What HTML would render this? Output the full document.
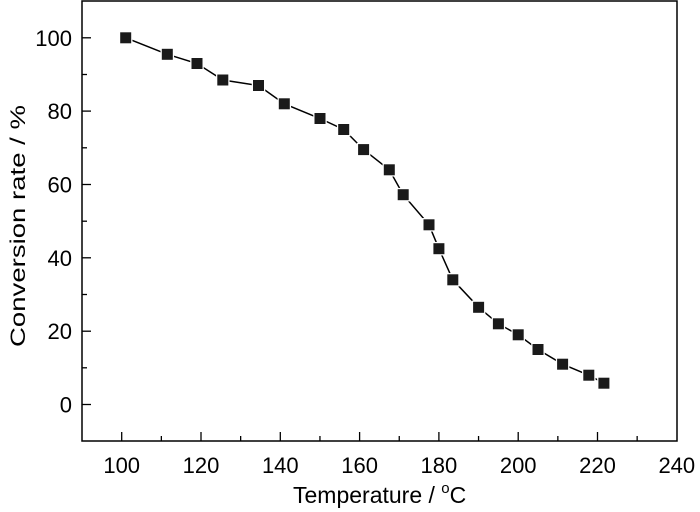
<!DOCTYPE html>
<html><head><meta charset="utf-8"><style>body{margin:0;background:#fff}svg{display:block}</style></head><body>
<svg width="700" height="512" xmlns="http://www.w3.org/2000/svg" font-family="Liberation Sans, Arial, sans-serif">
<rect x="82" y="1" width="595" height="440" fill="none" stroke="#000" stroke-width="1.5"/>
<g stroke="#000" stroke-width="1.3">
<line x1="121.7" y1="441" x2="121.7" y2="432"/><line x1="161.35" y1="441" x2="161.35" y2="436"/>
<line x1="201" y1="441" x2="201" y2="432"/><line x1="240.65" y1="441" x2="240.65" y2="436"/>
<line x1="280.3" y1="441" x2="280.3" y2="432"/><line x1="319.95" y1="441" x2="319.95" y2="436"/>
<line x1="359.6" y1="441" x2="359.6" y2="432"/><line x1="399.25" y1="441" x2="399.25" y2="436"/>
<line x1="438.9" y1="441" x2="438.9" y2="432"/><line x1="478.55" y1="441" x2="478.55" y2="436"/>
<line x1="518.2" y1="441" x2="518.2" y2="432"/><line x1="557.85" y1="441" x2="557.85" y2="436"/>
<line x1="597.5" y1="441" x2="597.5" y2="432"/><line x1="637.15" y1="441" x2="637.15" y2="436"/>
<line x1="82" y1="404.5" x2="91" y2="404.5"/><line x1="82" y1="367.8" x2="87" y2="367.8"/>
<line x1="82" y1="331.2" x2="91" y2="331.2"/><line x1="82" y1="294.5" x2="87" y2="294.5"/>
<line x1="82" y1="257.8" x2="91" y2="257.8"/><line x1="82" y1="221.2" x2="87" y2="221.2"/>
<line x1="82" y1="184.5" x2="91" y2="184.5"/><line x1="82" y1="147.8" x2="87" y2="147.8"/>
<line x1="82" y1="111.1" x2="91" y2="111.1"/><line x1="82" y1="74.5" x2="87" y2="74.5"/>
<line x1="82" y1="37.8" x2="91" y2="37.8"/>
</g>
<g font-size="22" text-anchor="middle">
<text x="121.7" y="473">100</text><text x="201" y="473">120</text><text x="280.3" y="473">140</text>
<text x="359.6" y="473">160</text><text x="438.9" y="473">180</text><text x="518.2" y="473">200</text>
<text x="597.5" y="473">220</text><text x="676.8" y="473">240</text>
</g>
<g font-size="22" text-anchor="end">
<text x="72" y="412.5">0</text><text x="72" y="339.2">20</text><text x="72" y="265.8">40</text>
<text x="72" y="192.5">60</text><text x="72" y="119.1">80</text><text x="72" y="45.8">100</text>
</g>
<polyline fill="none" stroke="#000" stroke-width="1.5" points="125.7,37.8 167.3,54.3 197,63.5 222.8,80 258.5,85.5 284.3,103.8 320,118.5 343.7,129.5 363.6,149.6 389.3,169.8 403.2,194.7 429,224.8 438.9,248.7 452.8,279.8 478.6,307.3 498.4,323.8 518.2,334.8 538,349.5 562.6,364.2 588.8,375.2 603.9,383.2"/>
<g fill="#1a1a1a" stroke="#fff" stroke-width="2.5" paint-order="stroke">
<rect x="120.2" y="32.3" width="11" height="11"/><rect x="161.8" y="48.8" width="11" height="11"/>
<rect x="191.5" y="58" width="11" height="11"/><rect x="217.3" y="74.5" width="11" height="11"/>
<rect x="253" y="80" width="11" height="11"/><rect x="278.8" y="98.3" width="11" height="11"/>
<rect x="314.5" y="113" width="11" height="11"/><rect x="338.2" y="124" width="11" height="11"/>
<rect x="358.1" y="144.1" width="11" height="11"/><rect x="383.8" y="164.3" width="11" height="11"/>
<rect x="397.7" y="189.2" width="11" height="11"/><rect x="423.5" y="219.3" width="11" height="11"/>
<rect x="433.4" y="243.2" width="11" height="11"/><rect x="447.3" y="274.3" width="11" height="11"/>
<rect x="473.1" y="301.8" width="11" height="11"/><rect x="492.9" y="318.3" width="11" height="11"/>
<rect x="512.7" y="329.3" width="11" height="11"/><rect x="532.5" y="344" width="11" height="11"/>
<rect x="557.1" y="358.7" width="11" height="11"/><rect x="583.3" y="369.7" width="11" height="11"/>
<rect x="598.4" y="377.7" width="11" height="11"/>
</g>
<text x="293" y="503" font-size="23">Temperature / <tspan font-size="15" dy="-10">o</tspan><tspan dy="10">C</tspan></text>
<text transform="translate(25,347) rotate(-90)" font-size="21" textLength="242" lengthAdjust="spacingAndGlyphs">Conversion rate / %</text>
</svg>
</body></html>
